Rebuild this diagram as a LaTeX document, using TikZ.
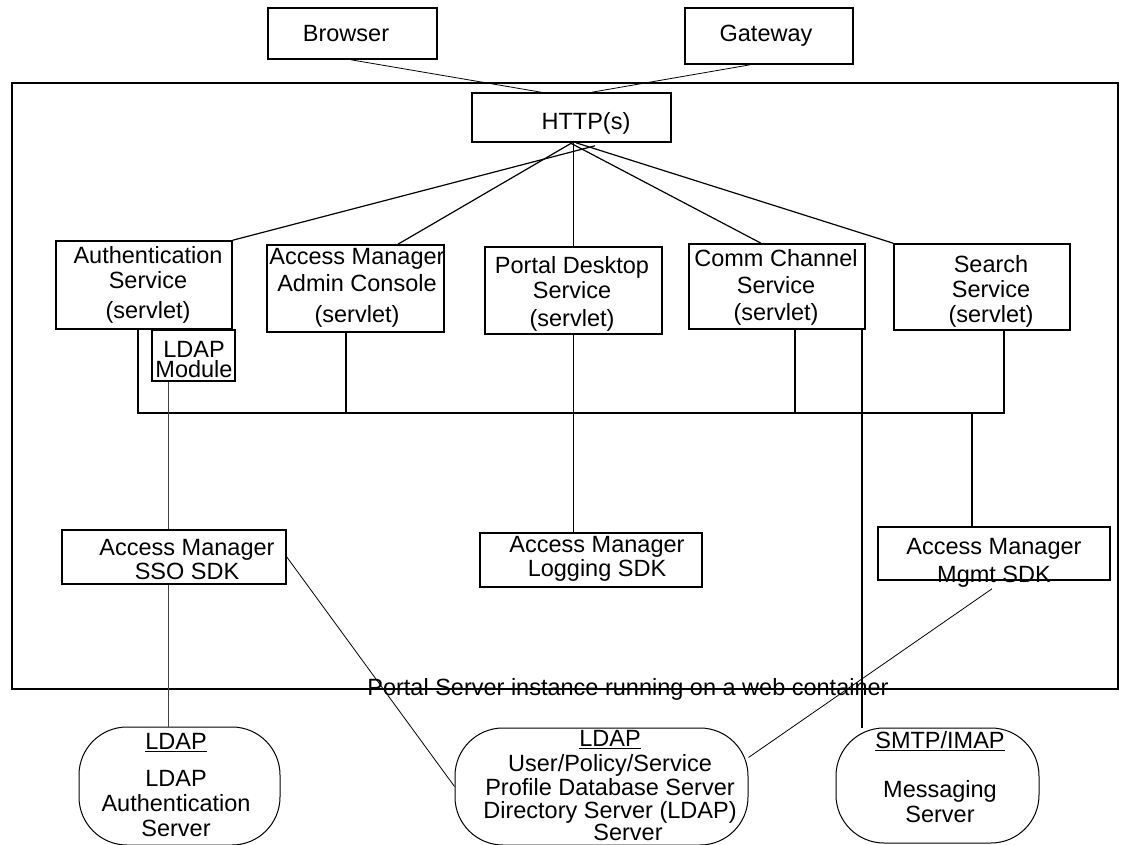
\documentclass[tikz,border=0pt]{standalone}
\usepackage{fontspec}
\setmainfont{Liberation Sans}
\usepackage{tikz}
\newcommand{\labelSize}[0]{23.5}

\begin{document}
\begin{tikzpicture}[x=1pt, y=-1pt,
    box/.style={draw, line width=1.6pt, inner sep=0pt},
    rbox/.style={draw, line width=1pt, inner sep=0pt, rounded corners=48pt},
    txt/.style={font=\fontsize{\labelSize}{25}\selectfont, align=center, inner sep=0pt, anchor=north},
    word/.style={font=\fontsize{\labelSize}{25}\selectfont, inner sep=0pt, anchor=base},
    conn/.style={line width=0.8pt},
    fan/.style={line width=1.2pt},
    bus/.style={line width=1.6pt}]
  \useasboundingbox (0,0) rectangle (1130,845);

  % boxes
  \node[box, minimum width=169pt, minimum height=51pt] (browser) at (352.5,33.5) {};
  \node[box, minimum width=168pt, minimum height=56pt] (gateway) at (769,36) {};
  \node[box, minimum width=1106pt, minimum height=606pt] (container) at (565,386) {};
  \node[box, minimum width=199pt, minimum height=49pt] (http) at (571.5,117.5) {};
  \node[box, minimum width=176pt, minimum height=88pt] (auth) at (144,285) {};
  \node[box, minimum width=83pt, minimum height=51pt] (ldapmod) at (193.5,355.5) {};
  \node[box, minimum width=177pt, minimum height=87pt] (admin) at (355.5,288.5) {};
  \node[box, minimum width=177pt, minimum height=87pt] (portal) at (573.5,290.5) {};
  \node[box, minimum width=176pt, minimum height=85pt] (comm) at (777,286.5) {};
  \node[box, minimum width=176pt, minimum height=86pt] (search) at (982,287) {};
  \node[box, minimum width=224pt, minimum height=54pt] (sso) at (174,557) {};
  \node[box, minimum width=222pt, minimum height=54pt] (logging) at (591,560) {};
  \node[box, minimum width=232pt, minimum height=53pt] (mgmt) at (994,553.5) {};
  \node[rbox, minimum width=201pt, minimum height=118pt] (ldapauth) at (179.5,786) {};
  \node[rbox, minimum width=293pt, minimum height=117pt] (userdb) at (601.5,786.5) {};
  \node[rbox, minimum width=203pt, minimum height=115pt] (msg) at (937.5,785.5) {};

  % texts
  \node[word] (browserText) at (346,42) {Browser};
  \node[word] (gatewayText) at (766,42) {Gateway};
  \node[word] (httpText) at (586,130) {HTTP(s)};
  \node[txt] (authText) at (148,246) {Authentication\\Service\\[5pt](servlet)};
  \node[txt] (ldapmodText) at (194,341) {LDAP\\[-5pt]Module};
  \node[txt] (adminText) at (357,248) {Access Manager\\[2pt]Admin Console\\[6pt](servlet)};
  \node[txt] (portalText) at (572,256) {Portal Desktop\\Service\\[3pt](servlet)};
  \node[txt] (commText) at (776,249) {Comm Channel\\[2pt]Service\\[2pt](servlet)};
  \node[txt] (searchText) at (991,255) {Search\\Service\\(servlet)};
  \node[txt] (ssoText) at (187,539) {Access Manager\\[-1pt]SSO SDK};
  \node[txt] (loggingText) at (597,536) {Access Manager\\[-1pt]Logging SDK};
  \node[txt] (mgmtText) at (994,538) {Access Manager\\[3pt]Mgmt SDK};
  \node[word] (caption) at (628,695) {Portal Server instance running on a web container};
  \node[txt] (ldapauthText) at (176,733) {\underline{LDAP}\\[12pt]LDAP\\Authentication\\Server};
  \node[txt] (userdbText) at (610,730) {\underline{LDAP}\\User/Policy/Service\\[-1pt]Profile Database Server\\[-2pt]Directory Server (LDAP)\\[-3pt]\hspace*{36pt}Server};
  \node[txt] (msgText) at (940,731) {\underline{SMTP/IMAP}\\[24pt]Messaging\\Server};

  % clients to HTTP(s)
  \draw[conn] ([xshift=-1.5]browser.south) -- ([xshift=-30.5]http.north);
  \draw[conn] ([xshift=-19]gateway.south) -- ([xshift=20.5]http.north);

  % HTTP(s) to the servlets
  \draw[fan] ([shift={(23.5,3)}]http.south) -- (auth.north east);
  \draw[fan] ([xshift=0.5]http.south) -- ([xshift=42.5]admin.north);
  \draw[fan] (portal.north |- http.south) -- (portal.north);
  \draw[fan] ([xshift=-1.5]http.south) -- ([xshift=-16]comm.north);
  \draw[fan] ([xshift=4.5]http.south) -- (search.north west);

  % bus
  \coordinate (busL) at (138,413);
  \coordinate (busR) at (1004,413);
  \coordinate (adminOut) at ([xshift=-9.5]admin.south);
  \coordinate (commOut) at ([xshift=18]comm.south);
  \coordinate (commMsg) at ([xshift=85]comm.south);
  \coordinate (mgmtIn) at ([xshift=-22]mgmt.north);
  \draw[bus] (auth.south -| busL) -- (busL) -- (busR) -- (search.south -| busR);
  \draw[bus] (adminOut) -- (adminOut |- busL);
  \draw[bus] (commOut) -- (commOut |- busL);
  \draw[bus] (mgmtIn |- busL) -- (mgmtIn);
  \draw[bus] (portal.south) -- (portal.south |- logging.north);
  \draw[bus] (commMsg) -- (commMsg |- msg.north);

  % LDAP paths
  \coordinate (ssoIn) at ([xshift=-6]sso.north);
  \coordinate (ssoOut) at ([xshift=-6]sso.south);
  \draw[conn, black!75] (ssoIn |- ldapmod.south) -- (ssoIn);
  \draw[conn, black!75] (ssoOut) -- (ssoOut |- ldapauth.north);
  \draw[conn] (sso.east) -- (userdb.west);
  \draw[conn] ([shift={(-2,8)}]mgmt.south) -- ([shift={(0,-29)}]userdb.east);
\end{tikzpicture}
\end{document}
